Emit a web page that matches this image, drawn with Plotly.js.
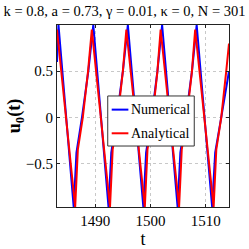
<!DOCTYPE html>
<html>
<head>
<meta charset="utf-8">
<script src="https://cdn.plot.ly/plotly-3.0.1.min.js"></script>
<style>html,body{margin:0;padding:0;background:#fff;}#chart{width:249px;height:249px;}</style>
</head>
<body>
<div id="chart"></div>
<script>
// Numerical solution u0(t)
var tNum = [1483.08, 1483.35, 1486.1, 1486.6, 1487.6, 1488.75, 1489.65,
            1492.4, 1492.9, 1493.9, 1495.0, 1495.9,
            1498.7, 1499.2, 1500.2, 1501.25, 1502.1,
            1504.9, 1505.4, 1506.4, 1507.5, 1508.35,
            1511.15, 1511.7, 1512.8, 1514.2];
var uNum = [0.6, 1.0, -0.97, -0.38, 0.0, 0.5, 1.0,
            -0.97, -0.38, 0.0, 0.5, 1.0,
            -0.97, -0.38, 0.0, 0.5, 1.0,
            -0.97, -0.38, 0.0, 0.5, 1.0,
            -0.97, -0.38, 0.0, 0.5];
// Analytical solution u0(t)
var tAna = [1483.08, 1486.37, 1486.85, 1487.75, 1488.7, 1489.38,
            1492.67, 1493.15, 1494.05, 1495.0, 1495.63,
            1498.97, 1499.45, 1500.35, 1501.25, 1501.83,
            1505.17, 1505.65, 1506.55, 1507.5, 1508.08,
            1511.42, 1511.9, 1512.8, 1513.7, 1514.2];
var uAna = [0.95, -0.97, -0.35, 0.0, 0.5, 0.95,
            -0.97, -0.35, 0.0, 0.5, 0.95,
            -0.97, -0.35, 0.0, 0.5, 0.95,
            -0.97, -0.35, 0.0, 0.5, 0.95,
            -0.97, -0.35, 0.0, 0.5, 0.8];
var seriesNames = ['Numerical', 'Analytical'];
var seriesColors = ['rgb(0,0,255)', 'rgb(255,0,0)'];
var xTicks = [1490, 1500, 1510];
var yTicks = [-0.5, 0, 0.5];
var yTickText = ['\u22120.5', '0', '0.5'];

var serif = 'Liberation Serif, Times New Roman, serif';
var traces = [
  {x: tNum, y: uNum, mode: 'lines', name: seriesNames[0], line: {color: seriesColors[0], width: 2}},
  {x: tAna, y: uAna, mode: 'lines', name: seriesNames[1], line: {color: seriesColors[1], width: 2}}
];

// Legend box (paper coordinates)
var lg = {x0: 0.295, x1: 0.798, y0: 0.335, y1: 0.610, lx0: 0.318, lx1: 0.415, tx: 0.418, rows: [0.535, 0.405]};
var shapes = [{type: 'rect', xref: 'paper', yref: 'paper', x0: lg.x0, x1: lg.x1, y0: lg.y0, y1: lg.y1,
               fillcolor: '#fff', line: {color: '#333', width: 1}, layer: 'above'}];
var annotations = [];
seriesNames.forEach(function (nm, i) {
  shapes.push({type: 'line', xref: 'paper', yref: 'paper', x0: lg.lx0, x1: lg.lx1, y0: lg.rows[i], y1: lg.rows[i],
               line: {color: seriesColors[i], width: 2}, layer: 'above'});
  annotations.push({xref: 'paper', yref: 'paper', x: lg.tx, y: lg.rows[i], xanchor: 'left', yanchor: 'middle',
                    text: nm, showarrow: false, font: {family: serif, size: 14, color: '#000'}});
});

var layout = {
  width: 249, height: 249,
  margin: {l: 57, r: 20, t: 25, b: 42},
  paper_bgcolor: '#fff', plot_bgcolor: '#fff',
  font: {family: serif, size: 15, color: '#000'},
  title: {text: 'k = 0.8, a = 0.73, \u03b3 = 0.01, \u03ba = 0, N = 301',
          font: {family: serif, size: 14.5, color: '#000'}, x: 0.5, xanchor: 'center', y: 0.975, yanchor: 'top'},
  xaxis: {range: [1483.08, 1514.2], tickvals: xTicks, ticktext: xTicks.map(String),
          showgrid: true, gridcolor: '#c8c8c8', griddash: 'dot', gridwidth: 1,
          zeroline: false, showline: true, mirror: 'ticks', linecolor: '#222', linewidth: 1,
          ticks: 'inside', ticklen: 3, tickcolor: '#222',
          tickfont: {family: serif, size: 15},
          title: {text: 't', font: {family: serif, size: 18}, standoff: 2}},
  yaxis: {range: [-0.97, 1.0], tickvals: yTicks, ticktext: yTickText,
          showgrid: true, gridcolor: '#c8c8c8', griddash: 'dot', gridwidth: 1,
          zeroline: false, showline: true, mirror: 'ticks', linecolor: '#222', linewidth: 1,
          ticks: 'inside', ticklen: 3, tickcolor: '#222',
          tickfont: {family: serif, size: 15},
          title: {text: '<b>u<sub>0</sub>(t)</b>', font: {family: serif, size: 18}, standoff: 0}},
  showlegend: false,
  shapes: shapes,
  annotations: annotations
};
Plotly.newPlot('chart', traces, layout, {displayModeBar: false, staticPlot: true});
</script>
</body>
</html>
